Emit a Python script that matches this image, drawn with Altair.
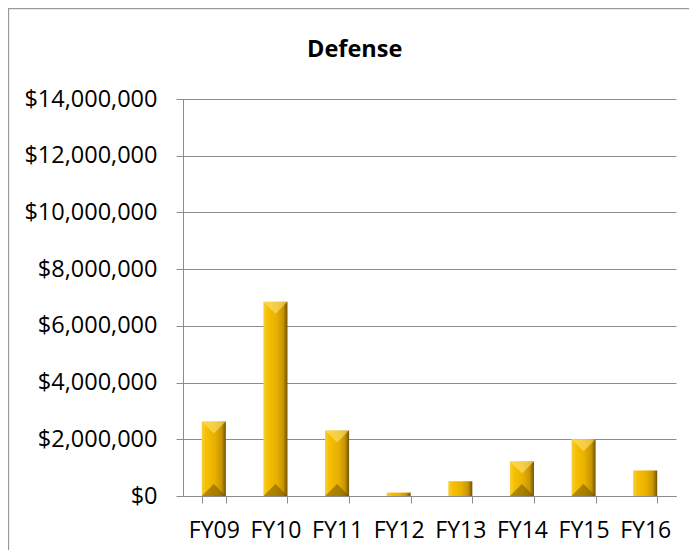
import altair as alt
import pandas as pd

# ---- data ----
years = ["FY09", "FY10", "FY11", "FY12", "FY13", "FY14", "FY15", "FY16"]
values = [2630000, 6850000, 2310000, 120000, 520000, 1220000, 2000000, 900000]
y_ticks = [0, 2000000, 4000000, 6000000, 8000000, 10000000, 12000000, 14000000]
chart_title = "Defense"

df = pd.DataFrame({"year": years, "value": values})

FONT = "Open Sans"
GRID = "#8c8c8c"
W, H = 493, 397

x_enc = alt.X(
    "year:N",
    sort=years,
    scale=alt.Scale(paddingInner=0.61, paddingOuter=0.305),
    axis=alt.Axis(
        title=None, labelAngle=0, tickBand="extent", tickSize=7,
        labelPadding=16, labelFont=FONT, labelFontSize=23, labelColor="#000000",
        domainColor=GRID, tickColor=GRID, grid=False,
    ),
)
y_enc = alt.Y(
    "value:Q",
    scale=alt.Scale(domain=[0, 14000000], nice=False),
    axis=alt.Axis(
        title=None, values=y_ticks, format="$,.0f", tickSize=7, labelPadding=19,
        labelFont=FONT, labelFontSize=23.5, labelColor="#000000",
        domainColor=GRID, tickColor=GRID, gridColor=GRID, grid=True,
    ),
)

grad = alt.Gradient(
    gradient="linear", x1=0, x2=1, y1=0, y2=0,
    stops=[
        alt.GradientStop(offset=0.0, color="#f7cf3a"),
        alt.GradientStop(offset=0.18, color="#f6c000"),
        alt.GradientStop(offset=0.55, color="#e8b000"),
        alt.GradientStop(offset=0.82, color="#c99500"),
        alt.GradientStop(offset=1.0, color="#6e5200"),
    ],
)

bars = alt.Chart(df).mark_bar(color=grad, clip=True).encode(x=x_enc, y=y_enc)

tall = alt.Chart(df).transform_filter("datum.value > 900000")
top_bevel = tall.mark_point(
    shape="M -1 -1 L 1 -1 L 0 0 Z", size=576, filled=True,
    color="#ffe680", opacity=0.55, yOffset=12,
).encode(x=alt.X("year:N", sort=years), y="value:Q")
bottom_bevel = tall.mark_point(
    shape="M -1 1 L 1 1 L 0 0 Z", size=576, filled=True,
    color="#6a4e00", opacity=0.5, clip=True,
).encode(x=alt.X("year:N", sort=years), y=alt.datum(0), yOffset=alt.value(-12))

title_df = pd.DataFrame({"t": [chart_title]})
title = alt.Chart(title_df).mark_text(
    font=FONT, fontSize=23.5, fontWeight="bold", color="#000000",
    align="center", baseline="alphabetic",
).encode(text="t:N", x=alt.value(171.7), y=alt.value(-42.3))

frame = alt.Chart(title_df).mark_rect(
    fill="transparent", stroke="#9a9a9a", strokeWidth=1.3,
).encode(x=alt.value(-174.5), x2=alt.value(700), y=alt.value(-90.3), y2=alt.value(700))

chart = alt.layer(frame, bars, top_bevel, bottom_bevel, title).resolve_scale(
    x="shared", y="shared"
).properties(
    width=W, height=H,
    autosize=alt.AutoSizeParams(type="none"),
    padding={"left": 175, "top": 91, "right": 13, "bottom": 54},
    background="white",
).configure_view(strokeWidth=0)

chart.save("out.html", embed_options={"renderer": "svg", "actions": False})
